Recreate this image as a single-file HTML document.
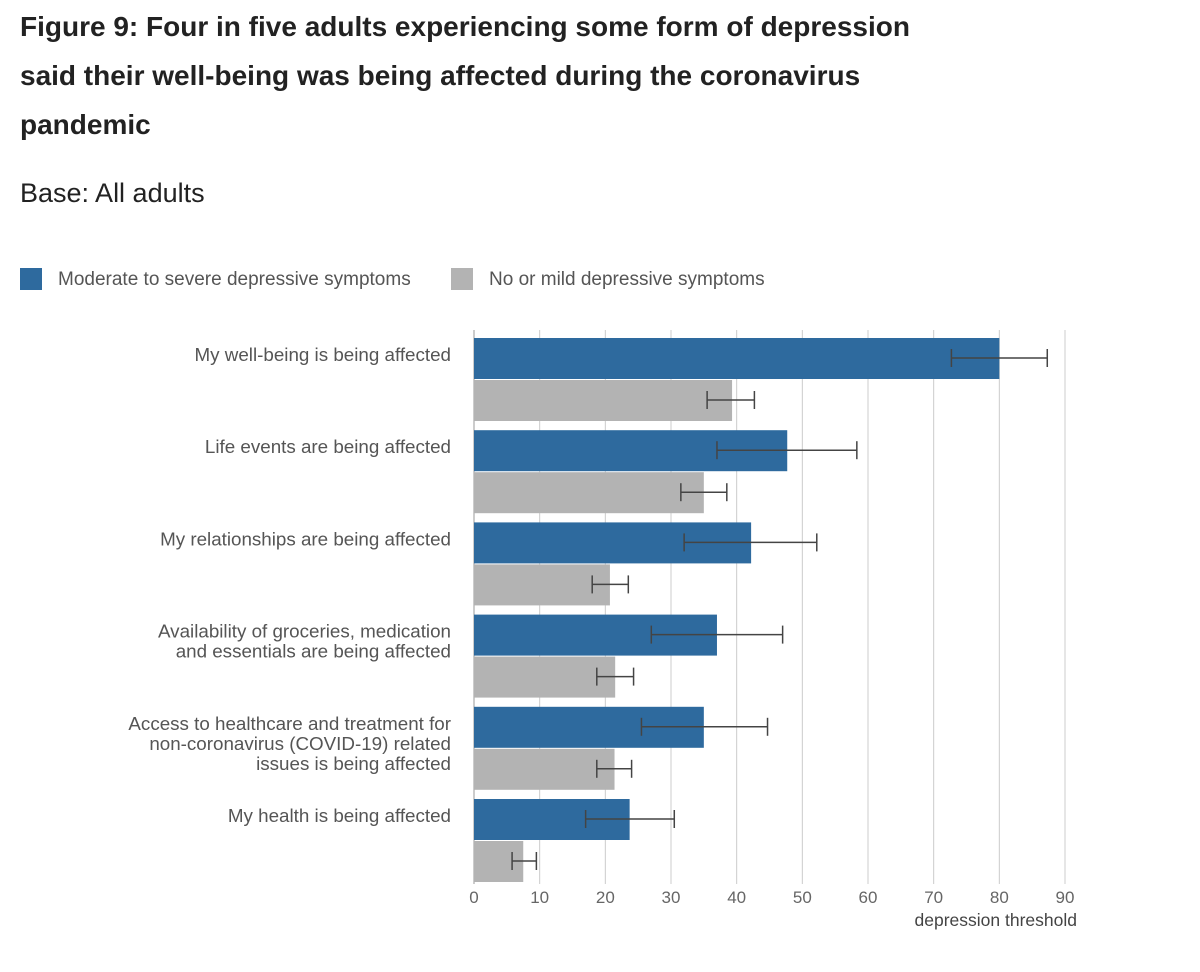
<!DOCTYPE html>
<html><head><meta charset="utf-8"><style>
body{margin:0;background:#fff;font-family:"Liberation Sans",sans-serif;}
#wrap{position:relative;width:1200px;height:972px;overflow:hidden;}
h1{position:absolute;left:20px;top:2px;margin:0;font-size:28px;line-height:49px;font-weight:bold;color:#222;width:1150px;}
.base{position:absolute;left:20px;top:178px;font-size:27px;color:#222;}
.leg{position:absolute;top:269px;font-size:19px;color:#555;}
.sw{position:absolute;width:22px;height:22px;top:-1px;}
</style></head><body>
<div id="wrap">
<h1>Figure 9: Four in five adults experiencing some form of depression<br>said their well-being was being affected during the coronavirus<br>pandemic</h1>
<div class="base">Base: All adults</div>
<div class="leg" style="left:20px"><span class="sw" style="left:0;background:#2e6a9e"></span><span style="margin-left:38px">Moderate to severe depressive symptoms</span></div>
<div class="leg" style="left:451px"><span class="sw" style="left:0;background:#b3b3b3"></span><span style="margin-left:38px">No or mild depressive symptoms</span></div>
<svg id="chart" width="1200" height="972" style="position:absolute;left:0;top:0"></svg>
</div>
<script>
const categories=[["My well-being is being affected"],["Life events are being affected"],["My relationships are being affected"],["Availability of groceries, medication","and essentials are being affected"],["Access to healthcare and treatment for","non-coronavirus (COVID-19) related","issues is being affected"],["My health is being affected"]];
const modValues=[80,47.7,42.2,37,35,23.7];
const modLow=[72.7,37,32,27,25.5,17];
const modHigh=[87.3,58.3,52.2,47,44.7,30.5];
const mildValues=[39.3,35,20.7,21.5,21.4,7.5];
const mildLow=[35.5,31.5,18,18.7,18.7,5.8];
const mildHigh=[42.7,38.5,23.5,24.3,24,9.5];
const ticks=[0,10,20,30,40,50,60,70,80,90];
const NS="http://www.w3.org/2000/svg";
const svg=document.getElementById('chart');
const x=v=>474+v*(1065-474)/90;
const y0=i=>338+i*92.2;
function mk(t,a,p){const e=document.createElementNS(NS,t);for(const k in a)e.setAttribute(k,a[k]);(p||svg).appendChild(e);return e;}
ticks.forEach(t=>{
 const l=mk('line',{x1:x(t),x2:x(t),y1:330,y2:884,stroke:t==0?'#999':'#ccc','stroke-width':1});
 
 
 const tx=mk('text',{x:x(t),y:903,'text-anchor':'middle','font-size':17,fill:'#666','font-family':'Liberation Sans'});
 tx.textContent=t;
 
 
});
const at=mk('text',{x:1077,y:926,'text-anchor':'end','font-size':17.5,fill:'#444','font-family':'Liberation Sans'});
at.textContent='depression threshold';


function err(lo,hi,cy){
 const g=mk('g',{stroke:'#444','stroke-width':1.5});
 
 
 mk('line',{x1:x(lo),x2:x(hi),y1:cy,y2:cy},g);
 mk('line',{x1:x(lo),x2:x(lo),y1:cy-9,y2:cy+9},g);
 mk('line',{x1:x(hi),x2:x(hi),y1:cy-9,y2:cy+9},g);
}
categories.forEach((c,i)=>{
 const by=y0(i);
 const b1=mk('rect',{x:x(0),y:by,width:x(modValues[i])-x(0),height:41,fill:'#2e6a9e'});
 
 
 const b2=mk('rect',{x:x(0),y:by+42,width:x(mildValues[i])-x(0),height:41,fill:'#b3b3b3'});
 
 
 err(modLow[i],modHigh[i],by+20);
 err(mildLow[i],mildHigh[i],by+62);
 c.forEach((line,j)=>{
  const t=mk('text',{x:451,y:by+23+j*20,'text-anchor':'end','font-size':18.8,fill:'#555','font-family':'Liberation Sans'});
  t.textContent=line;
  
  
 });
});
</script>
</body></html>
